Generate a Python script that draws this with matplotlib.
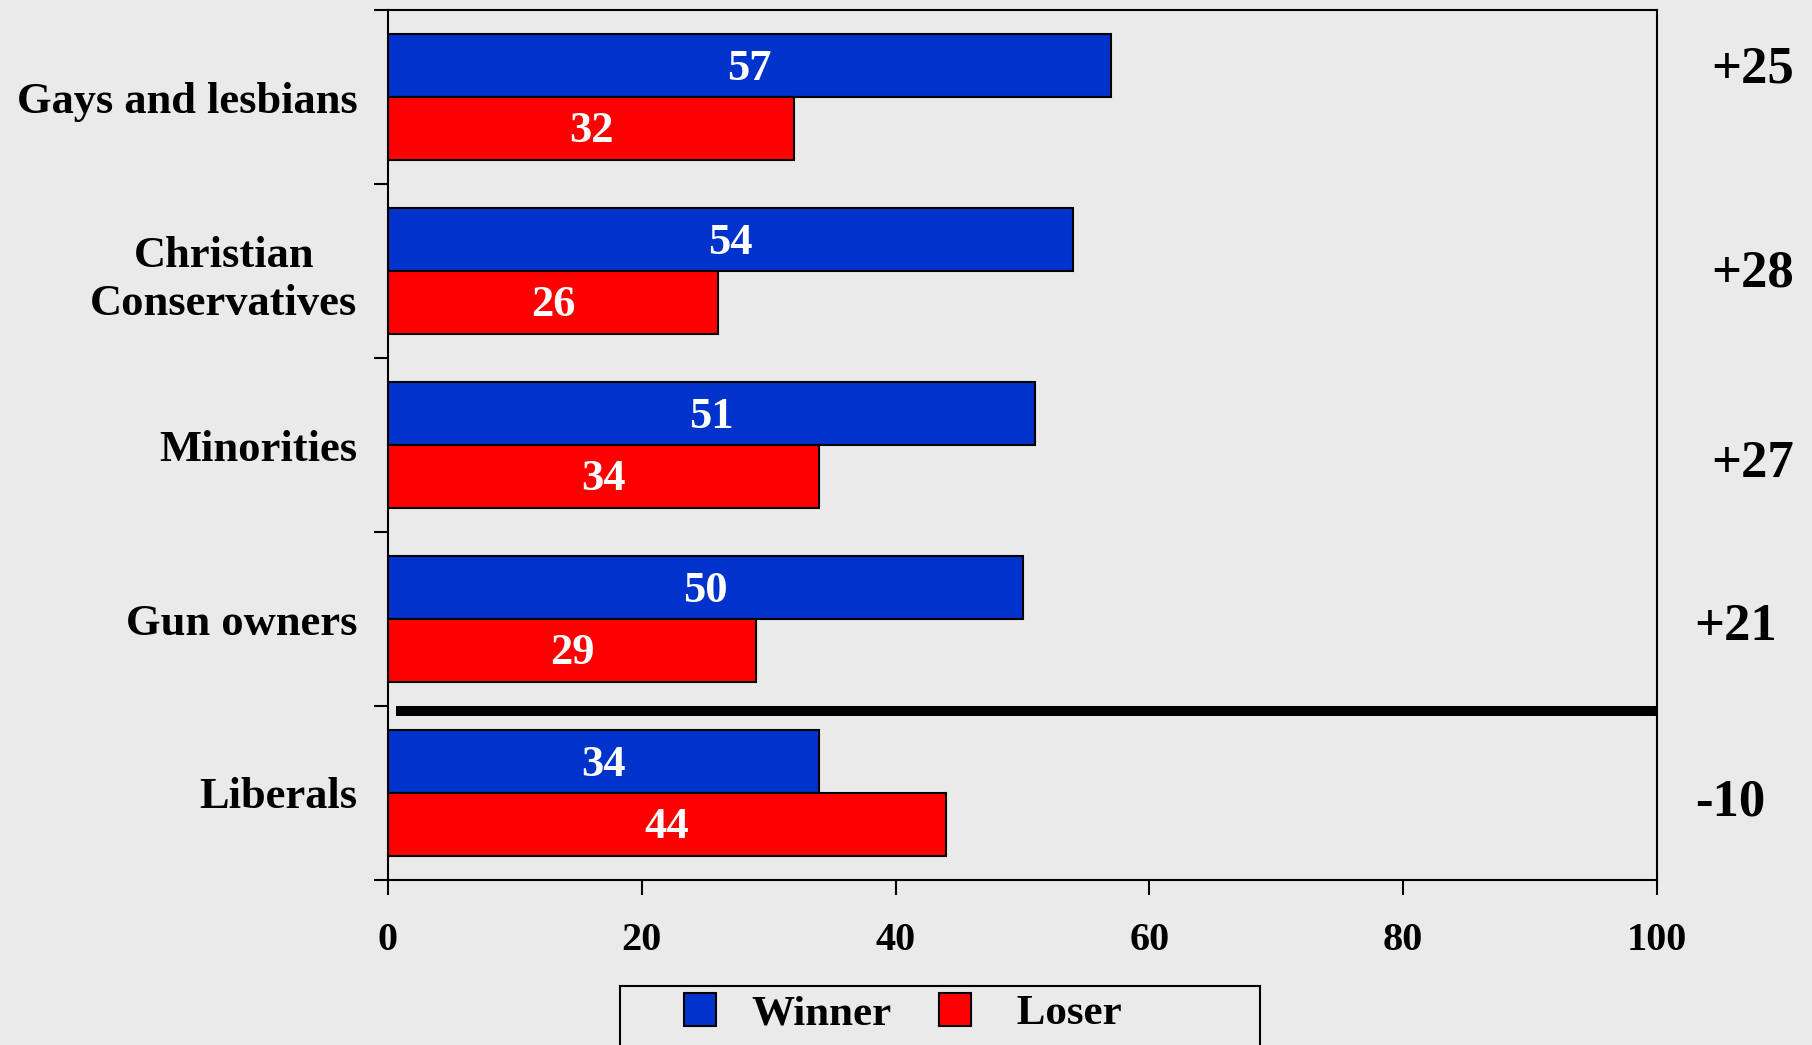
import numpy as np
import matplotlib
matplotlib.use('Agg')
import matplotlib.pyplot as plt
from matplotlib.patches import Rectangle, Patch

# Данные графика
groups = ['Gays and lesbians', 'Christian\nConservatives', 'Minorities', 'Gun owners', 'Liberals']
winner = [57, 54, 51, 50, 34]
loser = [32, 26, 34, 29, 44]
net_labels = ['+25', '+28', '+27', '+21', '-10']
x_ticks = [0, 20, 40, 60, 80, 100]

# Позиции подписей справа (x в единицах оси, сдвиг по y относительно центра группы)
net_x = [107.5, 107.5, 107.5, 106.2, 105.8]
net_dy = [-0.16, 0.015, 0.11, 0.045, 0.055]

BG = '#EAEAEA'
BLUE = '#0033CC'
RED = '#FF0000'

plt.rcParams['font.family'] = ['Liberation Serif', 'DejaVu Serif']
plt.rcParams['font.weight'] = 'bold'

fig = plt.figure(figsize=(18.12, 10.45), dpi=100, facecolor=BG)
ax = fig.add_axes([0.2141, 0.1579, 0.9145 - 0.2141, 0.9904 - 0.1579])
ax.set_facecolor(BG)

y = np.arange(len(groups))
h = 0.36
ax.barh(y - h / 2, winner, height=h, color=BLUE, edgecolor='black', linewidth=1.5, label='Winner')
ax.barh(y + h / 2, loser, height=h, color=RED, edgecolor='black', linewidth=1.5, label='Loser')

# подписи чуть ниже центра бара, как в оригинале
txt_dy = 0.017
for i in range(len(groups)):
    ax.text(winner[i] / 2, y[i] - h / 2 + txt_dy, str(winner[i]), color='white', fontsize=32,
            fontweight='bold', ha='center', va='center')
    ax.text(loser[i] / 2, y[i] + h / 2 + txt_dy, str(loser[i]), color='white', fontsize=32,
            fontweight='bold', ha='center', va='center')
    ax.text(net_x[i], y[i] + net_dy[i], net_labels[i], fontsize=38, fontweight='bold',
            ha='center', va='center', clip_on=False)

# Толстая разделительная линия между группами
ax.plot([0.63, 100], [3.527, 3.527], color='black', linewidth=7.2, solid_capstyle='butt', clip_on=False)

ax.set_xlim(0, 100)
ax.set_ylim(4.5, -0.5)
ax.set_xticks(x_ticks)
ax.set_xticklabels([str(v) for v in x_ticks], fontsize=29, fontweight='bold')
ax.set_yticks(y)
ax.set_yticklabels(groups, fontsize=32, fontweight='bold')
for t in ax.get_yticklabels():
    t.set_multialignment('center')
    t.set_linespacing(1.27)
ax.set_yticks(np.arange(-0.5, len(groups), 1.0), minor=True)

ax.tick_params(axis='y', which='major', length=0, pad=22)
ax.tick_params(axis='y', which='minor', length=10, width=1.5, direction='out')
ax.tick_params(axis='x', which='major', length=11, width=1.5, direction='out', pad=19)

for s in ax.spines.values():
    s.set_linewidth(1.5)
    s.set_color('black')

# Рамка легенды уходит за нижний край рисунка
fig.patches.append(Rectangle((620 / 1812, -0.1), 640 / 1812, 0.1 + 1 - 986 / 1045,
                             transform=fig.transFigure, fill=False, edgecolor='black',
                             linewidth=1.5))
handles = [Patch(facecolor=BLUE, edgecolor='black', linewidth=1.5),
           Patch(facecolor=RED, edgecolor='black', linewidth=1.5)]
fig.legend(handles, ['Winner', ' Loser'], loc='center left',
           bbox_to_anchor=(684 / 1812, 1 - 1013 / 1045), ncol=2, frameon=False,
           prop={'family': 'Liberation Serif', 'weight': 'bold', 'size': 31},
           handlelength=0.75, handleheight=0.81, handletextpad=0.81, columnspacing=1.1,
           borderpad=0, borderaxespad=0)

plt.savefig('out.png', dpi=100, facecolor=BG)
plt.close()
